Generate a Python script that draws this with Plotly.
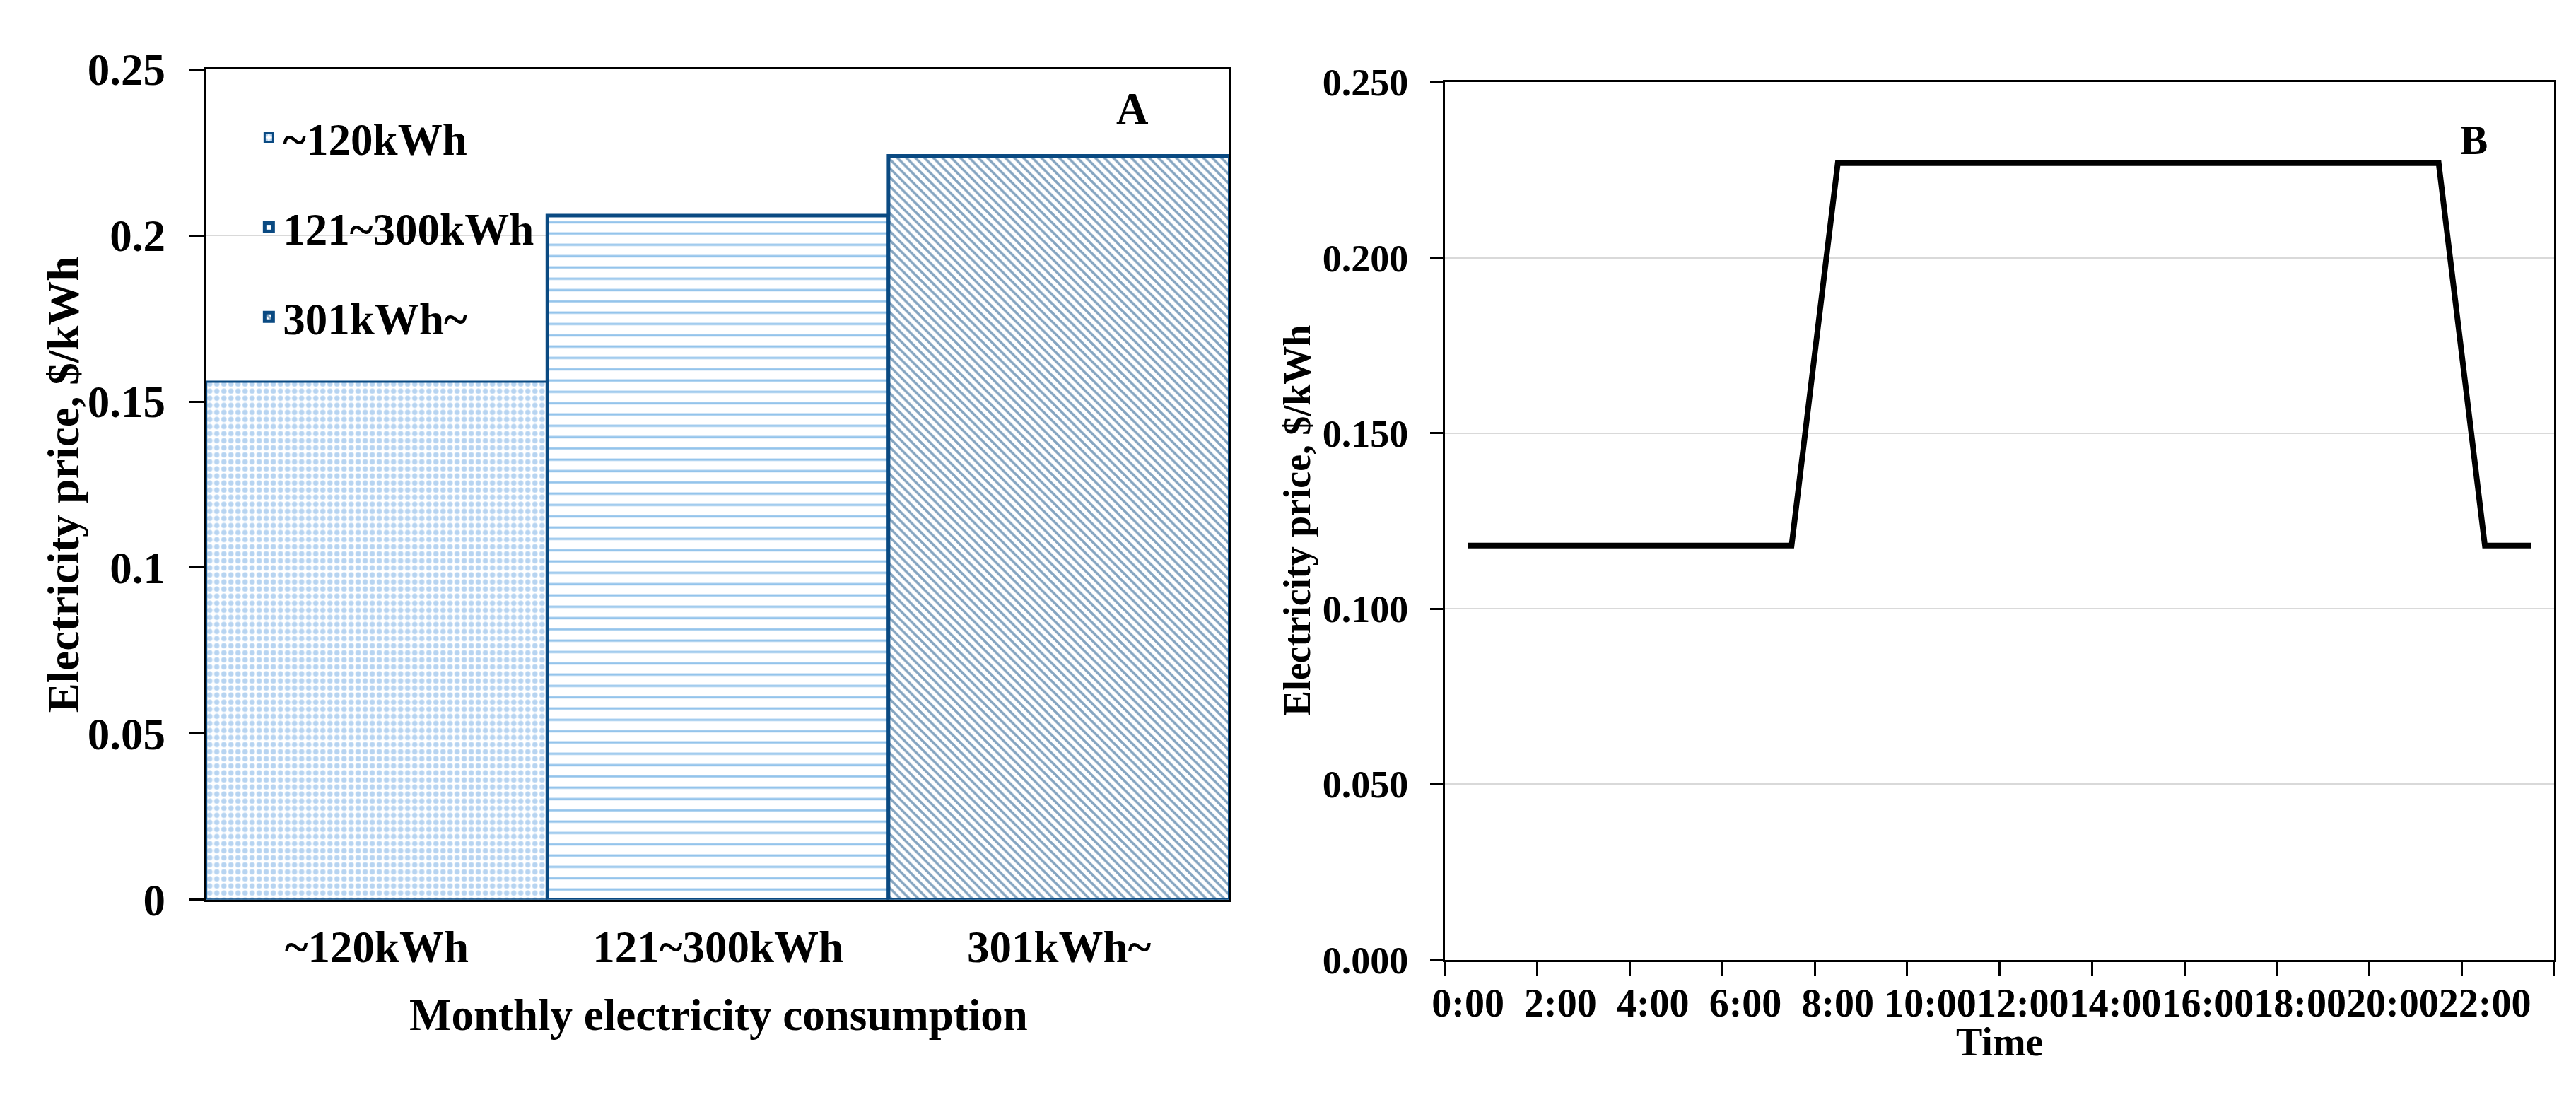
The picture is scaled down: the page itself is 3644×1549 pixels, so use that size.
import plotly.graph_objects as go

# panel A: tiered monthly tariff
tiers = ["~120kWh", "121~300kWh", "301kWh~"]
tier_prices = [0.156, 0.206, 0.224]
tier_patterns = [".", "-", "\\"]
tier_pattern_colors = ["#6fa9e3", "#2a8ad8", "#0a4a82"]

# panel B: time-of-use price over the day
hours = ["0:00", "1:00", "2:00", "3:00", "4:00", "5:00", "6:00", "7:00",
         "8:00", "9:00", "10:00", "11:00", "12:00", "13:00", "14:00", "15:00",
         "16:00", "17:00", "18:00", "19:00", "20:00", "21:00", "22:00", "23:00"]
hourly_price = [0.118, 0.118, 0.118, 0.118, 0.118, 0.118, 0.118, 0.118,
                0.227, 0.227, 0.227, 0.227, 0.227, 0.227, 0.227, 0.227,
                0.227, 0.227, 0.227, 0.227, 0.227, 0.227, 0.118, 0.118]

W, H = 3644, 1549
FONT = "Liberation Serif"
NAVY = "#0a4a82"


def px(x):
    return x / W


def py(y):
    return 1 - y / H


def bold(size):
    return dict(family=FONT, size=size, color="black", weight="bold")


fig = go.Figure()

pattern_sizes = [10, 16, 9]
pattern_solidity = [0.45, 0.2, 0.4]
for i, (name, price) in enumerate(zip(tiers, tier_prices)):
    fig.add_trace(go.Bar(
        x=[name], y=[price], name=name, width=1,
        legendgroup=name,
        marker=dict(
            color="white",
            line=dict(color=NAVY, width=3 if i == 0 else 5),
            pattern=dict(shape=tier_patterns[i], fgcolor=tier_pattern_colors[i],
                         bgcolor="white", size=pattern_sizes[i],
                         solidity=pattern_solidity[i]),
        ),
        xaxis="x", yaxis="y",
    ))

fig.add_trace(go.Scatter(
    x=hours, y=hourly_price, mode="lines", showlegend=False,
    line=dict(color="black", width=8),
    xaxis="x2", yaxis="y2",
))

axis_common = dict(showline=True, linecolor="black", linewidth=3, mirror=True,
                   zeroline=False)

fig.update_layout(
    width=W, height=H,
    margin=dict(l=0, r=0, t=0, b=0),
    paper_bgcolor="white", plot_bgcolor="white",
    barmode="overlay",
    font=dict(family=FONT, color="black"),
    xaxis=dict(domain=[px(267), px(1722)], anchor="y", type="category",
               range=[-0.5, 2.5], ticks="", showgrid=False,
               tickfont=bold(63), ticklabelstandoff=10, **axis_common),
    yaxis=dict(domain=[py(1289), py(59)], anchor="x", range=[0, 0.25],
               dtick=0.05, ticks="outside", ticklen=22, tickwidth=3,
               tickcolor="black", showgrid=True, gridcolor="#d9d9d9",
               gridwidth=2, tickfont=bold(63), ticklabelstandoff=20,
               **axis_common),
    xaxis2=dict(domain=[px(2028), px(3605)], anchor="y2", type="category",
                range=[-0.5, 23.5], dtick=2, tickangle=0, tickson="boundaries",
                ticks="outside", ticklen=19, tickwidth=3, tickcolor="black",
                showgrid=False, tickfont=bold(56), ticklabelstandoff=10,
                **axis_common),
    yaxis2=dict(domain=[py(1378), py(78)], anchor="x2", range=[0, 0.25],
                dtick=0.05, tickformat=".3f", ticks="outside", ticklen=18,
                tickwidth=3, tickcolor="black", showgrid=True,
                gridcolor="#d9d9d9", gridwidth=2, tickfont=bold(54),
                ticklabelstandoff=20, **axis_common),
    legend=dict(x=px(336), y=py(110), xanchor="left", yanchor="top",
                bgcolor="rgba(0,0,0,0)", traceorder="grouped",
                tracegroupgap=42, font=bold(63)),
)

annotations = [
    dict(text="Electricity price, $/kWh", x=px(64), y=py(674), textangle=-90,
         font=bold(63)),
    dict(text="Monthly electricity consumption", x=px(995), y=py(1460),
         font=bold(63)),
    dict(text="Electricity price, $/kWh", x=px(1818), y=py(728), textangle=-90,
         font=bold(54)),
    dict(text="Time", x=px(2816), y=py(1500), font=bold(56)),
    dict(text="A", x=px(1584), y=py(117), font=bold(63)),
    dict(text="B", x=px(3491), y=py(163), font=bold(59)),
]
for a in annotations:
    fig.add_annotation(xref="paper", yref="paper", showarrow=False,
                       xanchor="center", yanchor="middle", **a)

fig.write_html("out.html")
